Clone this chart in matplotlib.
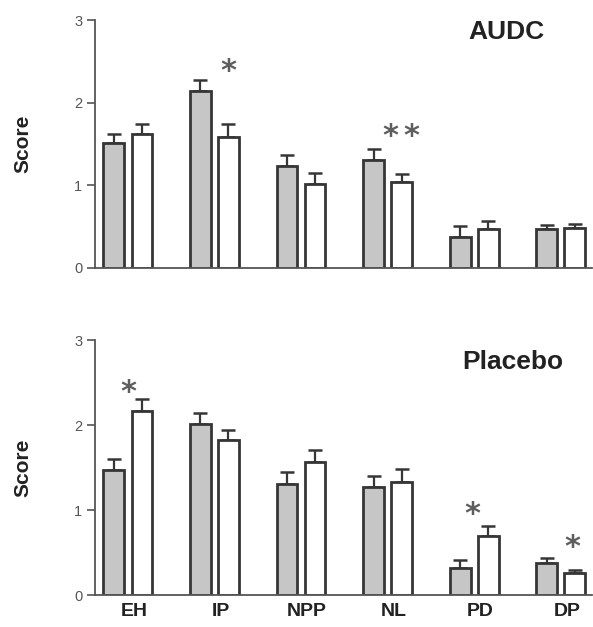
import numpy as np
import matplotlib.pyplot as plt

plt.rcParams['font.family'] = ['Liberation Sans', 'DejaVu Sans']

categories = ["EH", "IP", "NPP", "NL", "PD", "DP"]

# AUDC panel
audc_before = [1.51, 2.14, 1.23, 1.31, 0.37, 0.47]
audc_before_err = [0.11, 0.13, 0.14, 0.13, 0.14, 0.05]
audc_after = [1.62, 1.59, 1.01, 1.04, 0.47, 0.48]
audc_after_err = [0.12, 0.15, 0.14, 0.10, 0.10, 0.05]
audc_star_x = [1.16, 3.03, 3.27]
audc_star_y = [2.49, 1.70, 1.70]

# Placebo panel
plac_before = [1.47, 2.01, 1.31, 1.27, 0.32, 0.38]
plac_before_err = [0.13, 0.13, 0.14, 0.13, 0.09, 0.05]
plac_after = [2.16, 1.82, 1.56, 1.33, 0.69, 0.26]
plac_after_err = [0.15, 0.12, 0.15, 0.15, 0.12, 0.04]
plac_star_x = [0.0, 3.98, 5.13]
plac_star_y = [2.49, 1.06, 0.67]

edge = "#363636"
grey_fill = "#c6c6c6"
tick_col = "#555555"

fig = plt.figure(figsize=(5.93, 6.27), dpi=100)
ax_top = fig.add_axes([0.160, 0.5726, 0.838, 0.3955])
ax_bot = fig.add_axes([0.160, 0.0510, 0.838, 0.4067])


def draw_panel(ax, before, before_err, after, after_err, star_x, star_y, title, tx, ty, show_labels):
    x = np.arange(len(categories))
    off = 0.162
    w = 0.24
    ax.bar(x - off, before, width=w, color=grey_fill, edgecolor=edge, linewidth=2.0, zorder=2)
    ax.bar(x + off, after, width=w, color="white", edgecolor=edge, linewidth=2.0, zorder=2)
    ax.errorbar(x - off, before, yerr=[np.zeros(len(x)), before_err], fmt="none",
                ecolor=edge, elinewidth=1.6, capsize=5, capthick=1.8, zorder=1)
    ax.errorbar(x + off, after, yerr=[np.zeros(len(x)), after_err], fmt="none",
                ecolor=edge, elinewidth=1.6, capsize=5, capthick=1.8, zorder=1)
    # asterisks: shift down so the glyph (not its text box) is centred on the point
    for sx, sy in zip(star_x, star_y):
        ax.annotate("*", (sx, sy), xytext=(0, -12.8), textcoords="offset points",
                    ha="center", va="baseline", fontsize=22, fontweight="bold",
                    color="#5e5e5e", family="DejaVu Sans")
    ax.text(tx, ty, title, transform=ax.transAxes, ha="center", va="center",
            fontsize=19, fontweight="bold", color="#222222")

    ax.set_xlim(-0.381, 5.358)
    ax.set_ylim(0, 3)
    ax.set_yticks([0, 1, 2, 3])
    ax.tick_params(axis="y", length=6, width=1.2, colors=tick_col, labelsize=10.5, pad=3)
    ax.spines["top"].set_visible(False)
    ax.spines["right"].set_visible(False)
    for sp in ["left", "bottom"]:
        ax.spines[sp].set_color("#555555")
        ax.spines[sp].set_linewidth(1.3)
    ax.set_ylabel("Score", fontsize=15, fontweight="bold", color="#222222")
    ax.yaxis.set_label_coords(-0.125, 0.5)
    if show_labels:
        ax.set_xticks(x + 0.07)
        ax.set_xticklabels(categories, fontsize=14, fontweight="bold", color="#222222")
        ax.tick_params(axis="x", length=0, pad=6)
    else:
        ax.set_xticks([])


draw_panel(ax_top, audc_before, audc_before_err, audc_after, audc_after_err,
           audc_star_x, audc_star_y, "AUDC", 0.829, 0.95, False)
draw_panel(ax_bot, plac_before, plac_before_err, plac_after, plac_after_err,
           plac_star_x, plac_star_y, "Placebo", 0.841, 0.914, True)

fig.savefig("out.png", dpi=100)
